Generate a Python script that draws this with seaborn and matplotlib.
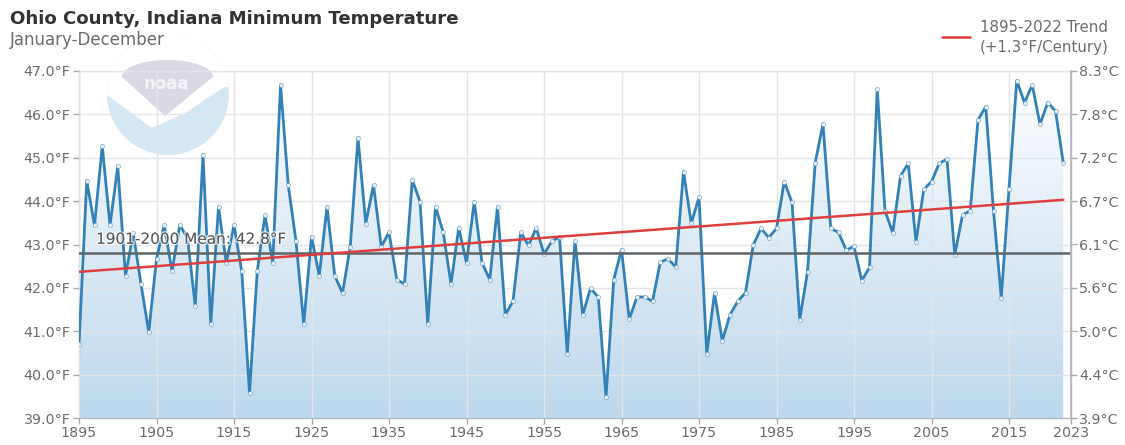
import numpy as np
import pandas as pd
import seaborn as sns
import matplotlib
matplotlib.use("Agg")
import matplotlib.pyplot as plt
import matplotlib.patheffects as pe
from matplotlib.colors import LinearSegmentedColormap
from matplotlib.patches import Circle, Polygon

years = list(range(1895, 2023))
temps = [40.7, 44.47, 43.44, 45.27, 43.44, 44.8, 42.28, 43.26, 42.09, 40.98,
         42.67, 43.45, 42.38, 43.45, 43.15, 41.58, 45.07, 41.17, 43.87, 42.57,
         43.45, 42.38, 39.58, 42.38, 43.68, 42.57, 46.68, 44.37, 43.08, 41.17,
         43.18, 42.28, 43.87, 42.28, 41.88, 42.95, 45.46, 43.48, 44.37, 42.95,
         43.28, 42.19, 42.09, 44.49, 43.99, 41.17, 43.87, 43.28, 42.09, 43.39,
         42.57, 43.99, 42.58, 42.19, 43.87, 41.38, 41.69, 43.28, 42.98, 43.38,
         42.78, 43.07, 43.18, 40.48, 43.08, 41.38, 41.99, 41.79, 39.48, 42.19,
         42.88, 41.28, 41.79, 41.79, 41.69, 42.59, 42.67, 42.48, 44.68, 43.49,
         44.09, 40.48, 41.88, 40.78, 41.38, 41.69, 41.89, 42.99, 43.37, 43.16,
         43.37, 44.45, 43.97, 41.27, 42.37, 44.89, 45.78, 43.37, 43.28, 42.87,
         42.96, 42.17, 42.47, 46.58, 43.78, 43.27, 44.58, 44.87, 43.06, 44.27,
         44.45, 44.87, 44.97, 42.76, 43.68, 43.78, 45.87, 46.18, 43.78, 41.77,
         44.27, 46.78, 46.27, 46.68, 45.77, 46.27, 46.08, 44.89]
trend_years = [1895, 2022]
trend_values = [42.37, 44.03]
mean_years = [1895, 2023]
mean_values = [42.8, 42.8]
x_ticks = [1895, 1905, 1915, 1925, 1935, 1945, 1955, 1965, 1975, 1985, 1995, 2005, 2015, 2023]
y_ticks = [39, 40, 41, 42, 43, 44, 45, 46, 47]
f_labels = ["39.0°F", "40.0°F", "41.0°F", "42.0°F", "43.0°F", "44.0°F", "45.0°F", "46.0°F", "47.0°F"]
c_labels = ["3.9°C", "4.4°C", "5.0°C", "5.6°C", "6.1°C", "6.7°C", "7.2°C", "7.8°C", "8.3°C"]

W, H = 1125, 445
sns.set_theme(style="white")
plt.rcParams["font.family"] = ["DejaVu Sans"]
GREY = "#6b6b6b"
TICK_FS = 10.3

fig = plt.figure(figsize=(W / 100, H / 100), dpi=100, facecolor="white")

# NOAA logo behind the plot
logo = fig.add_axes([0, 0, 1, 1], zorder=0)
logo.set_xlim(0, W); logo.set_ylim(H, 0); logo.axis("off")
disc = Circle((168, 94), 61, fc="#d6e7f4", ec="none")
logo.add_patch(disc)
white = Polygon([(100, 30), (240, 30), (240, 86), (224, 87), (185, 113), (152, 128), (107, 95), (100, 95)],
                fc="white", ec="none")
logo.add_patch(white)
white.set_clip_path(disc)
arc = np.linspace(np.pi, 0, 40)
dome = np.column_stack([167.5 + 45.5 * np.cos(arc), 77 - 17 * np.sin(arc)])
logo.add_patch(Polygon(np.vstack([dome, [[165, 116]]]), fc="#d8d9e3", ec="none"))
logo.text(166, 84, "noaa", color="#f4f4f8", ha="center", va="center", fontsize=12, fontweight="bold")

ax = fig.add_axes([79 / W, 1 - 418 / H, (1071 - 79) / W, (418 - 71) / H], zorder=1)
ax.patch.set_alpha(0)

# gradient under the series, clipped to the area below the line
area = ax.fill_between(years, temps, 39, color="none")
cmap = LinearSegmentedColormap.from_list("fade", ["#b9d6ed", "#ffffff"])
grad = ax.imshow(np.linspace(0, 1, 256)[:, None], origin="lower", aspect="auto",
                 extent=[1895, 2023, 39, 47], cmap=cmap, vmin=0, vmax=1, zorder=1, alpha=0.95)
grad.set_clip_path(area.get_paths()[0], transform=ax.transData)
ax.set_xlim(1895, 2023)
ax.set_ylim(39, 47)

ax.set_xticks(x_ticks)
ax.set_xticklabels(x_ticks)
ax.set_yticks(y_ticks)
ax.set_yticklabels(f_labels)
ax.grid(True, color="#e2e4e8", lw=1)
ax.set_axisbelow(False)
for gl in ax.get_xgridlines() + ax.get_ygridlines():
    gl.set_zorder(1.5)
ax.tick_params(axis="both", colors=GREY, labelsize=TICK_FS, length=4, width=1, color="#aaaaaa", pad=2,
               bottom=True, left=True)
for side, sp in ax.spines.items():
    sp.set_color("#b5bac0" if side in ("left", "right", "bottom") else "#eaeaea")
    sp.set_linewidth(1)

df = pd.DataFrame({"year": years, "temp": temps})
sns.lineplot(data=df, x="year", y="temp", ax=ax, color="#3381b7", lw=2, zorder=3,
             marker="o", markersize=3, markerfacecolor="#e6f0f7",
             markeredgecolor="#6d9dbd", markeredgewidth=0.4, errorbar=None)
sns.lineplot(x=mean_years, y=mean_values, ax=ax, color="#5f6468", lw=1.8, zorder=4, errorbar=None)
sns.lineplot(x=trend_years, y=trend_values, ax=ax, color="#dd3f3e", lw=1.8, zorder=4, errorbar=None)
ax.set_xlabel("")
ax.set_ylabel("")

ax.text(1897.2, 43.12, "1901-2000 Mean: 42.8°F", color="#555555", fontsize=11, va="center", zorder=5,
        path_effects=[pe.withStroke(linewidth=2, foreground=(1, 1, 1, 0.7))])

ax2 = ax.twinx()
ax2.set_ylim(39, 47)
ax2.set_yticks(y_ticks)
ax2.set_yticklabels(c_labels)
ax2.grid(False)
ax2.tick_params(axis="y", colors=GREY, labelsize=TICK_FS, length=4, width=1, color="#aaaaaa", pad=2, right=True)
for side, sp in ax2.spines.items():
    sp.set_visible(side == "right")
    sp.set_color("#b5bac0")

fig.text(10 / W, 1 - 19 / H, "Ohio County, Indiana Minimum Temperature", fontsize=13.1,
         fontweight="bold", color="#333333", va="center")
fig.text(10 / W, 1 - 40 / H, "January-December", fontsize=12, color=GREY, va="center")

fig.add_artist(plt.Line2D([942 / W, 970 / W], [1 - 37 / H, 1 - 37 / H], color="#dd3f3e", lw=1.8))
fig.text(980 / W, 1 - 37.5 / H, "1895-2022 Trend\n(+1.3°F/Century)", fontsize=10.8, color=GREY,
         va="center", ha="left", linespacing=1.35)

fig.savefig("out.png", dpi=100)
